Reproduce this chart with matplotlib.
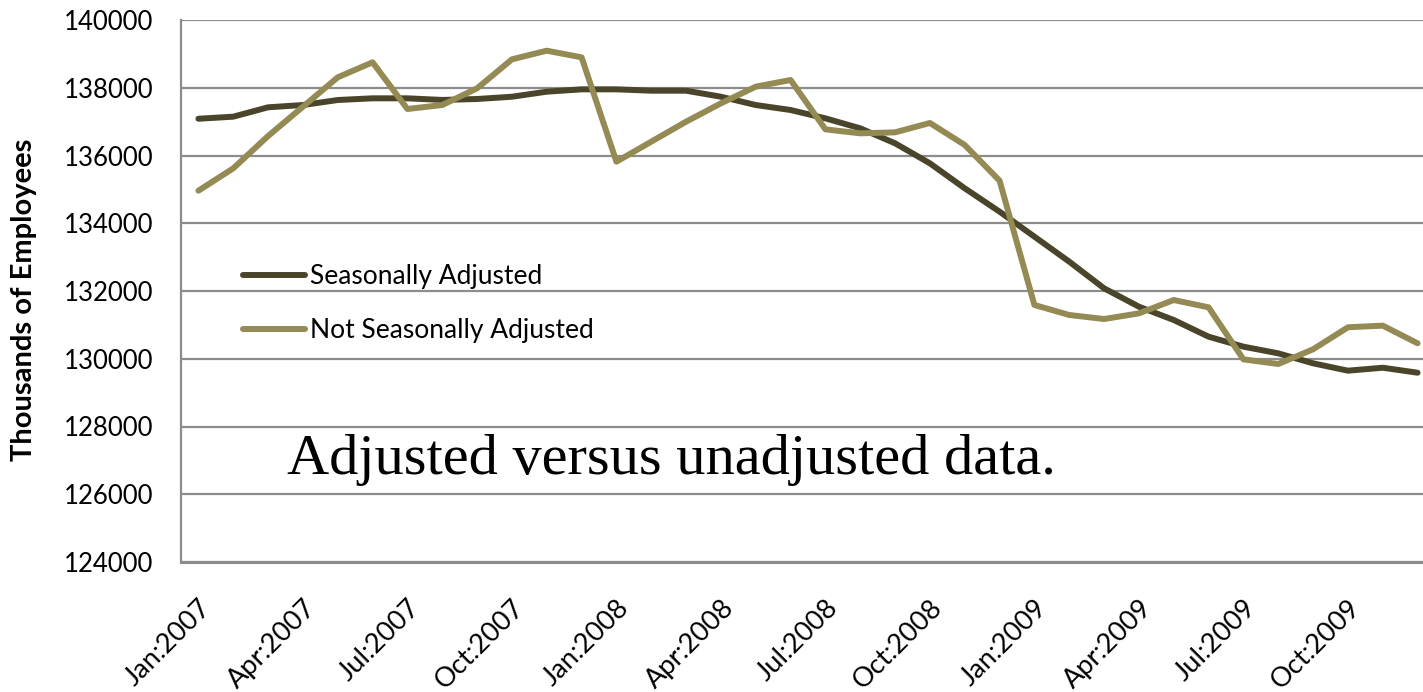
import matplotlib
matplotlib.use("Agg")
import matplotlib.pyplot as plt
import matplotlib.transforms as mtransforms

months = ["Jan", "Feb", "Mar", "Apr", "May", "Jun", "Jul", "Aug", "Sep", "Oct", "Nov", "Dec"]
years = [2007, 2008, 2009]
categories = [f"{m}:{y}" for y in years for m in months]

seasonally_adjusted = [
    137085, 137146, 137423, 137490, 137638, 137688, 137688, 137640, 137668, 137735, 137884, 137953,
    137953, 137913, 137913, 137735, 137490, 137343, 137097, 136802, 136360, 135769, 135031, 134342,
    133604, 132866, 132079, 131537, 131144, 130652, 130357, 130160, 129865, 129648, 129735, 129588,
]
not_seasonally_adjusted = [
    134961, 135621, 136575, 137440, 138308, 138751, 137373, 137490, 137983, 138839, 139094, 138898,
    135818, 136408, 136998, 137540, 138032, 138229, 136772, 136654, 136684, 136960, 136310, 135257,
    131587, 131292, 131173, 131340, 131734, 131518, 129982, 129845, 130279, 130929, 130978, 130456,
]
series_names = ["Seasonally Adjusted", "Not Seasonally Adjusted"]
y_label = "Thousands of Employees"
annotation = "Adjusted versus unadjusted data."

W, H = 1423, 692
fig = plt.figure(figsize=(W / 100, H / 100), dpi=100)
ax = fig.add_axes([181 / W, 130 / H, (1435 - 181) / W, (562 - 20) / H])

x = list(range(len(categories)))
ax.plot(x, seasonally_adjusted, color="#4a452a", lw=4.3, solid_capstyle="round",
        solid_joinstyle="round", label=series_names[0], zorder=3)
ax.plot(x, not_seasonally_adjusted, color="#948a54", lw=4.3, solid_capstyle="round",
        solid_joinstyle="round", label=series_names[1], zorder=3)

ax.set_xlim(-0.5, len(categories) - 0.5)
ax.set_ylim(124000, 140000)
ax.set_yticks(range(124000, 140001, 2000))
ax.set_yticklabels([str(v) for v in range(124000, 140001, 2000)], fontsize=18.5, family="Lato")
ax.yaxis.grid(True, color="#8c8c8c", lw=1.6, zorder=1)
ax.set_axisbelow(True)

tick_idx = list(range(0, len(categories), 3))
ax.set_xticks(tick_idx)
ax.set_xticklabels([categories[i] for i in tick_idx], fontsize=19.5, family="Lato",
                   rotation=45, ha="right", va="top", rotation_mode="anchor")
offset = mtransforms.ScaledTranslation(3 / 100, 0, fig.dpi_scale_trans)
for lbl in ax.get_xticklabels():
    lbl.set_transform(lbl.get_transform() + offset)

ax.tick_params(axis="both", length=0)
ax.tick_params(axis="y", pad=20)
ax.tick_params(axis="x", pad=24)

for s in ["top", "right"]:
    ax.spines[s].set_visible(False)
ax.spines["left"].set_color("#8c8c8c")
ax.spines["left"].set_linewidth(1.6)
ax.spines["bottom"].set_color("#8c8c8c")
ax.spines["bottom"].set_linewidth(2.2)

fig.text(24 / W, 1 - 300 / H, y_label, rotation=90, ha="center", va="center",
         fontsize=21, fontweight="bold", family="Lato")

leg = ax.legend(loc="upper left", bbox_to_anchor=(243 / W, 1 - 264 / H),
                bbox_transform=fig.transFigure, frameon=False,
                prop={"family": "Lato", "size": 19},
                handlelength=2.35, handletextpad=0.2, labelspacing=1.1,
                borderpad=0, borderaxespad=0)

fig.text(287 / W, 1 - 474 / H, annotation, ha="left", va="baseline",
         fontsize=42, family="Liberation Serif")

fig.savefig("out.png", dpi=100)
